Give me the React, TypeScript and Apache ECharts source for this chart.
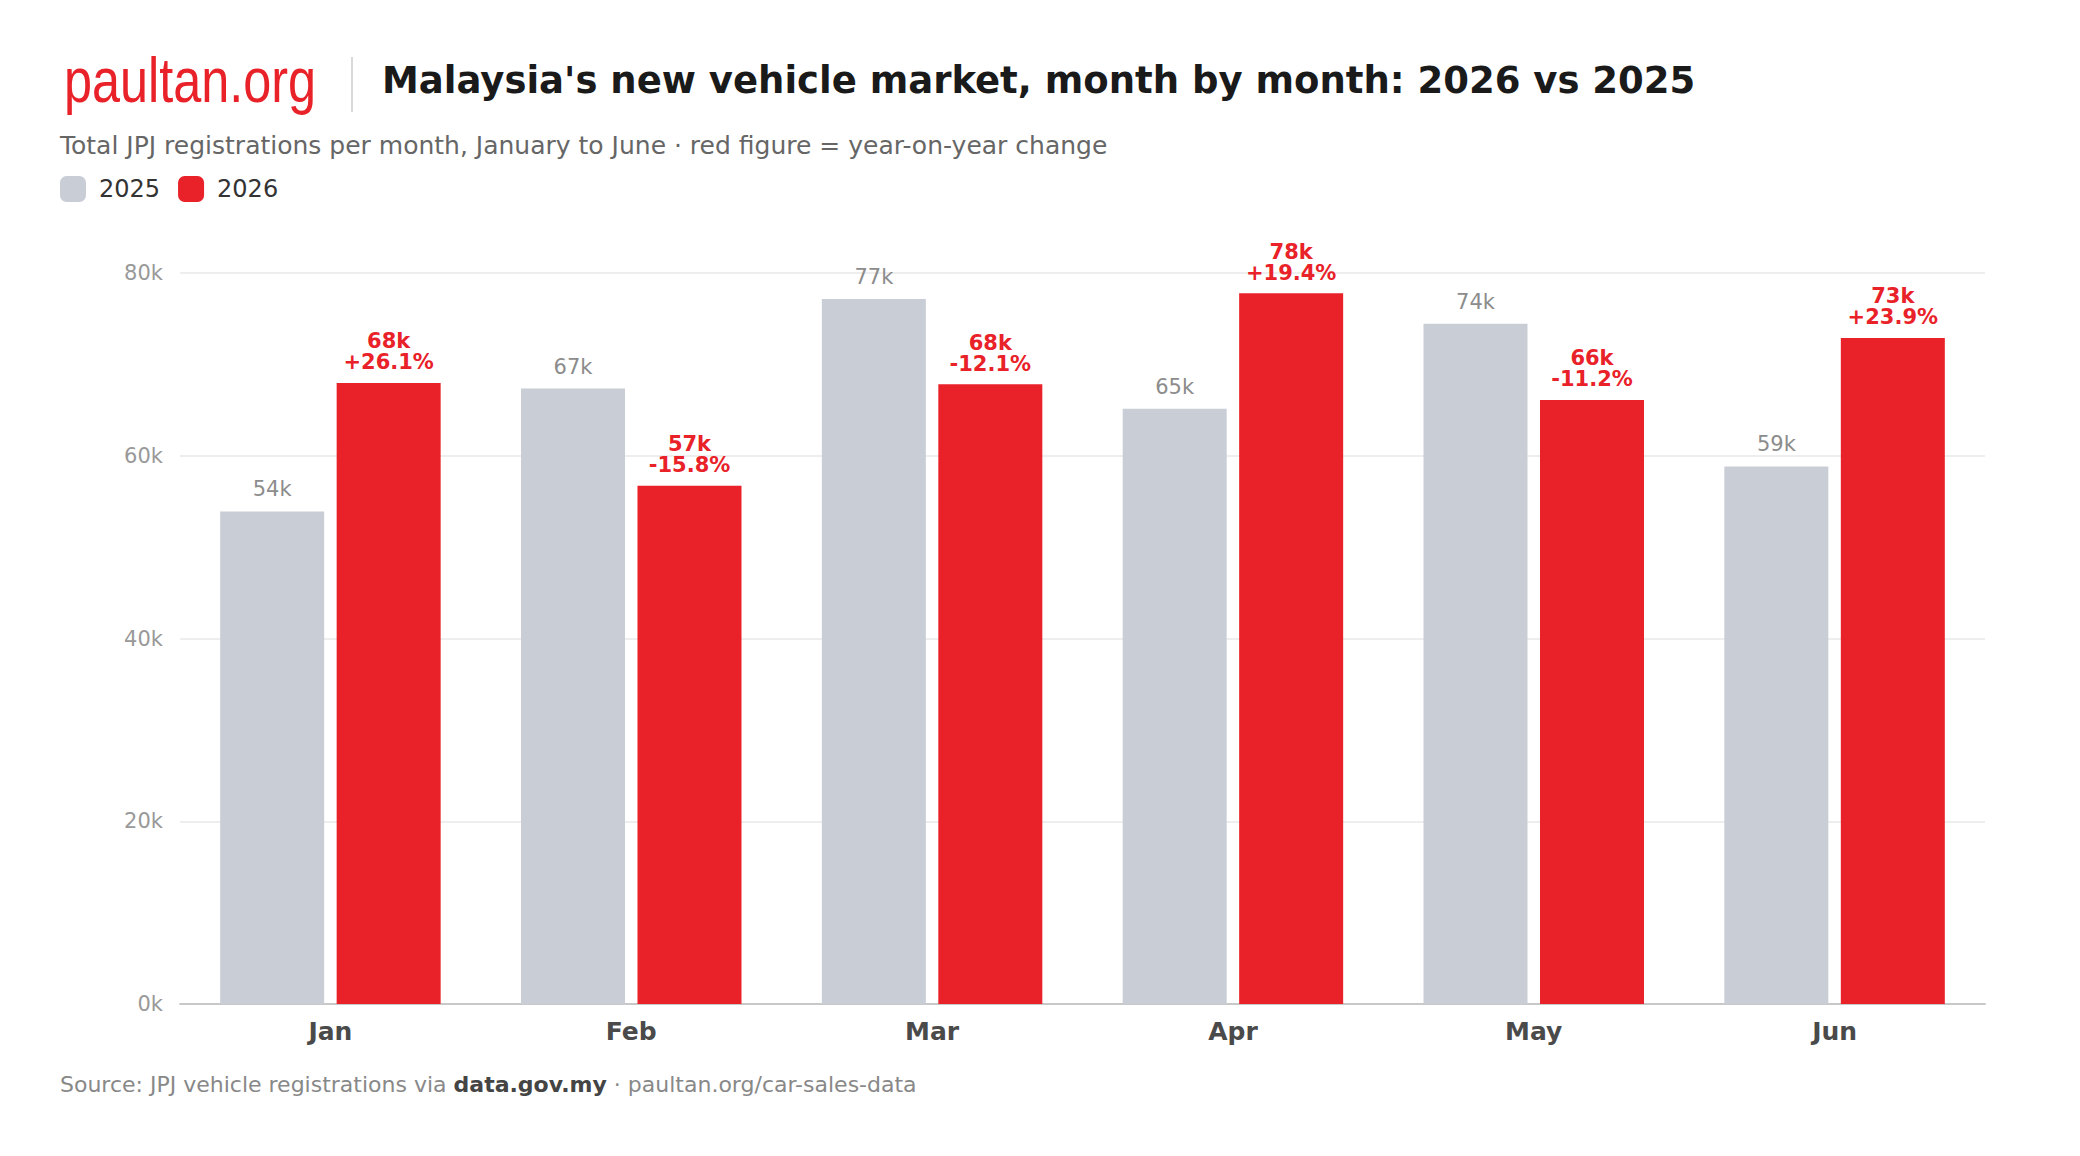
import React, { useEffect, useRef } from "react";
import * as echarts from "echarts";

const months = ["Jan", "Feb", "Mar", "Apr", "May", "Jun"];
const sales2025 = [53900, 67350, 77150, 65150, 74450, 58830];
const sales2026 = [67970, 56710, 67820, 77790, 66110, 72890];
const yoyChange = [26.1, -15.8, -12.1, 19.4, -11.2, 23.9];
const yTicks = [0, 20000, 40000, 60000, 80000];

const RED = "#e92128";
const GREY = "#c9cdd6";
const FONT = "'DejaVu Sans', sans-serif";

const kLabel = (v: number) => Math.round(v / 1000) + "k";

export default function App() {
  const ref = useRef<HTMLDivElement>(null);

  useEffect(() => {
    if (!ref.current) return;
    const chart = echarts.init(ref.current, null, { renderer: "svg" });
    chart.setOption({
      animation: false,
      backgroundColor: "#ffffff",
      textStyle: { fontFamily: FONT },
      legend: {
        left: 60,
        top: 176,
        padding: 0,
        itemWidth: 26,
        itemHeight: 26,
        itemGap: 18,
        icon: "roundRect",
        selectedMode: false,
        textStyle: { fontSize: 24, color: "#333333", fontFamily: FONT, padding: [0, 0, 0, 8] },
        data: ["2025", "2026"],
      },
      grid: { left: 180, right: 95, top: 273, bottom: 152, containLabel: false },
      xAxis: {
        type: "category",
        data: months,
        axisTick: { show: false },
        axisLine: { lineStyle: { color: "#c8c8c8", width: 2 } },
        axisLabel: { fontSize: 25, fontWeight: "bold", color: "#4a4a4a", margin: 15, fontFamily: FONT },
      },
      yAxis: {
        type: "value",
        min: yTicks[0],
        max: yTicks[yTicks.length - 1],
        interval: yTicks[1] - yTicks[0],
        axisLine: { show: false },
        axisTick: { show: false },
        splitLine: { lineStyle: { color: "#e8e8e8", width: 1.5 } },
        axisLabel: {
          fontSize: 21,
          color: "#999999",
          margin: 17,
          fontFamily: FONT,
          formatter: (v: number) => v / 1000 + "k",
        },
      },
      series: [
        {
          name: "2025",
          type: "bar",
          data: sales2025,
          barWidth: 104,
          barGap: "12%",
          itemStyle: { color: GREY },
          label: {
            show: true,
            position: "top",
            distance: 11,
            fontSize: 21,
            lineHeight: 22,
            color: "#8c8c8c",
            fontFamily: FONT,
            formatter: (p: any) => kLabel(p.value),
          },
        },
        {
          name: "2026",
          type: "bar",
          data: sales2026,
          barWidth: 104,
          barGap: "12%",
          itemStyle: { color: RED },
          label: {
            show: true,
            position: "top",
            distance: 10,
            fontSize: 21,
            lineHeight: 21,
            fontWeight: "bold",
            color: RED,
            fontFamily: FONT,
            align: "center",
            formatter: (p: any) => {
              const c = yoyChange[p.dataIndex];
              return kLabel(p.value) + "\n" + (c > 0 ? "+" : "") + c.toFixed(1) + "%";
            },
          },
        },
      ],
      graphic: [
        {
          type: "text",
          x: 64,
          y: 80,
          scaleX: 0.8,
          style: {
            text: "paultan.org",
            fontSize: 63,
            fontFamily: "'Liberation Sans', Arial, sans-serif",
            fill: RED,
            verticalAlign: "middle",
            align: "left",
          },
        },
        {
          type: "line",
          shape: { x1: 352, y1: 57, x2: 352, y2: 112 },
          style: { stroke: "#d9d9d9", lineWidth: 2 },
        },
        {
          type: "text",
          x: 382,
          y: 80,
          style: {
            text: "Malaysia's new vehicle market, month by month: 2026 vs 2025",
            fontSize: 37,
            fontWeight: "bold",
            fontFamily: FONT,
            fill: "#1a1a1a",
            verticalAlign: "middle",
          },
        },
        {
          type: "text",
          x: 60,
          y: 145,
          style: {
            text: "Total JPJ registrations per month, January to June · red figure = year-on-year change",
            fontSize: 25,
            fontFamily: FONT,
            fill: "#666666",
            verticalAlign: "middle",
          },
        },
        {
          type: "text",
          x: 60,
          y: 1084,
          style: {
            text: "Source: JPJ vehicle registrations via {b|data.gov.my} · paultan.org/car-sales-data",
            fontSize: 22,
            fontFamily: FONT,
            fill: "#888888",
            verticalAlign: "middle",
            rich: {
              b: { fontSize: 22, fontWeight: "bold", fill: "#444444", fontFamily: FONT },
            },
          },
        },
      ],
    });
    return () => chart.dispose();
  }, []);

  return (
    <div
      ref={ref}
      style={{ position: "absolute", left: 0, top: 0, width: 2080, height: 1156, background: "#fff" }}
    />
  );
}
